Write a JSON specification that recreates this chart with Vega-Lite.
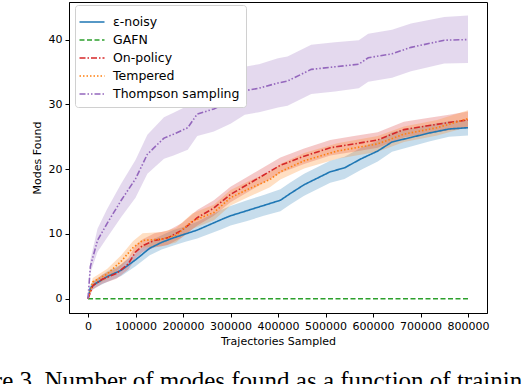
{
  "$schema": "https://vega.github.io/schema/vega-lite/v6.json",
  "width": 418,
  "height": 311,
  "autosize": {"type": "none"},
  "padding": {"left": 69, "top": 2, "right": 35, "bottom": 71},
  "background": "white",
  "config": {
    "font": "DejaVu Sans",
    "view": {"stroke": "black", "strokeWidth": 1},
    "axis": {
      "grid": false,
      "domainColor": "black",
      "tickColor": "black",
      "tickSize": 4,
      "labelFontSize": 11,
      "labelColor": "black",
      "titleFontSize": 11,
      "titleFontWeight": "normal",
      "titleColor": "black",
      "labelFont": "DejaVu Sans",
      "titleFont": "DejaVu Sans"
    },
    "legend": {
      "orient": "none",
      "legendX": 6,
      "legendY": 3,
      "fillColor": "white",
      "strokeColor": "#d0d0d0",
      "cornerRadius": 3,
      "padding": 6,
      "symbolType": "M-1.25,0H1.25",
      "symbolSize": 400,
      "symbolStrokeWidth": 1.6,
      "labelFontSize": 12.5,
      "labelColor": "black",
      "labelFont": "DejaVu Sans",
      "rowPadding": 0,
      "labelOffset": 10
    }
  },
  "title": {
    "text": "Figure 3. Number of modes found as a function of training",
    "orient": "bottom",
    "anchor": "start",
    "frame": "group",
    "dx": -121,
    "offset": 23,
    "font": "Liberation Serif",
    "fontSize": 25,
    "fontWeight": "normal",
    "color": "black"
  },
  "data": {
    "values": [
      {"s": "ε-noisy", "x": 0, "y": 0, "lo": 0, "hi": 0},
      {"s": "ε-noisy", "x": 5000, "y": 1.7, "lo": 1.2, "hi": 2.2},
      {"s": "ε-noisy", "x": 15000, "y": 2.3, "lo": 1.7, "hi": 2.9},
      {"s": "ε-noisy", "x": 40000, "y": 3.4, "lo": 2.6, "hi": 4.2},
      {"s": "ε-noisy", "x": 70000, "y": 4.4, "lo": 3.5, "hi": 5.3},
      {"s": "ε-noisy", "x": 100000, "y": 6.0, "lo": 5.0, "hi": 7.0},
      {"s": "ε-noisy", "x": 130000, "y": 7.8, "lo": 6.7, "hi": 8.9},
      {"s": "ε-noisy", "x": 155000, "y": 8.7, "lo": 7.6, "hi": 9.8},
      {"s": "ε-noisy", "x": 180000, "y": 9.4, "lo": 8.2, "hi": 10.6},
      {"s": "ε-noisy", "x": 205000, "y": 10.0, "lo": 8.8, "hi": 11.2},
      {"s": "ε-noisy", "x": 230000, "y": 10.6, "lo": 9.3, "hi": 11.9},
      {"s": "ε-noisy", "x": 255000, "y": 11.4, "lo": 10.0, "hi": 12.8},
      {"s": "ε-noisy", "x": 280000, "y": 12.2, "lo": 10.7, "hi": 13.7},
      {"s": "ε-noisy", "x": 300000, "y": 12.8, "lo": 11.3, "hi": 14.3},
      {"s": "ε-noisy", "x": 335000, "y": 13.6, "lo": 12.0, "hi": 15.2},
      {"s": "ε-noisy", "x": 370000, "y": 14.4, "lo": 12.8, "hi": 16.0},
      {"s": "ε-noisy", "x": 405000, "y": 15.2, "lo": 13.5, "hi": 16.9},
      {"s": "ε-noisy", "x": 425000, "y": 16.2, "lo": 14.5, "hi": 17.9},
      {"s": "ε-noisy", "x": 455000, "y": 17.6, "lo": 15.9, "hi": 19.3},
      {"s": "ε-noisy", "x": 510000, "y": 19.6, "lo": 17.9, "hi": 21.3},
      {"s": "ε-noisy", "x": 540000, "y": 20.2, "lo": 18.5, "hi": 21.9},
      {"s": "ε-noisy", "x": 575000, "y": 21.6, "lo": 19.9, "hi": 23.3},
      {"s": "ε-noisy", "x": 610000, "y": 22.8, "lo": 21.2, "hi": 24.4},
      {"s": "ε-noisy", "x": 640000, "y": 24.2, "lo": 22.7, "hi": 25.7},
      {"s": "ε-noisy", "x": 680000, "y": 24.9, "lo": 23.5, "hi": 26.3},
      {"s": "ε-noisy", "x": 720000, "y": 25.6, "lo": 24.3, "hi": 26.9},
      {"s": "ε-noisy", "x": 760000, "y": 26.2, "lo": 25.0, "hi": 27.4},
      {"s": "ε-noisy", "x": 800000, "y": 26.4, "lo": 25.2, "hi": 27.6},

      {"s": "GAFN", "x": 0, "y": 0, "lo": 0, "hi": 0},
      {"s": "GAFN", "x": 800000, "y": 0, "lo": 0, "hi": 0},

      {"s": "On-policy", "x": 0, "y": 0, "lo": 0, "hi": 0},
      {"s": "On-policy", "x": 10000, "y": 2.0, "lo": 1.4, "hi": 2.6},
      {"s": "On-policy", "x": 30000, "y": 3.0, "lo": 2.3, "hi": 3.7},
      {"s": "On-policy", "x": 60000, "y": 3.9, "lo": 3.1, "hi": 4.7},
      {"s": "On-policy", "x": 85000, "y": 5.4, "lo": 4.5, "hi": 6.3},
      {"s": "On-policy", "x": 100000, "y": 7.2, "lo": 6.2, "hi": 8.2},
      {"s": "On-policy", "x": 115000, "y": 8.2, "lo": 7.2, "hi": 9.2},
      {"s": "On-policy", "x": 140000, "y": 9.0, "lo": 7.9, "hi": 10.1},
      {"s": "On-policy", "x": 168000, "y": 9.4, "lo": 8.3, "hi": 10.5},
      {"s": "On-policy", "x": 198000, "y": 10.6, "lo": 9.5, "hi": 11.7},
      {"s": "On-policy", "x": 230000, "y": 12.5, "lo": 11.3, "hi": 13.7},
      {"s": "On-policy", "x": 265000, "y": 14.0, "lo": 12.8, "hi": 15.2},
      {"s": "On-policy", "x": 300000, "y": 16.1, "lo": 14.9, "hi": 17.3},
      {"s": "On-policy", "x": 335000, "y": 17.6, "lo": 16.4, "hi": 18.8},
      {"s": "On-policy", "x": 370000, "y": 19.1, "lo": 17.9, "hi": 20.3},
      {"s": "On-policy", "x": 405000, "y": 20.6, "lo": 19.4, "hi": 21.8},
      {"s": "On-policy", "x": 455000, "y": 22.0, "lo": 20.8, "hi": 23.2},
      {"s": "On-policy", "x": 510000, "y": 23.3, "lo": 22.1, "hi": 24.5},
      {"s": "On-policy", "x": 560000, "y": 23.9, "lo": 22.7, "hi": 25.1},
      {"s": "On-policy", "x": 610000, "y": 24.5, "lo": 23.3, "hi": 25.7},
      {"s": "On-policy", "x": 640000, "y": 25.4, "lo": 24.2, "hi": 26.6},
      {"s": "On-policy", "x": 665000, "y": 26.1, "lo": 24.9, "hi": 27.3},
      {"s": "On-policy", "x": 715000, "y": 26.7, "lo": 25.5, "hi": 27.9},
      {"s": "On-policy", "x": 760000, "y": 27.2, "lo": 26.0, "hi": 28.4},
      {"s": "On-policy", "x": 800000, "y": 27.6, "lo": 26.3, "hi": 28.9},

      {"s": "Tempered", "x": 0, "y": 0, "lo": 0, "hi": 0},
      {"s": "Tempered", "x": 10000, "y": 2.6, "lo": 2.0, "hi": 3.2},
      {"s": "Tempered", "x": 40000, "y": 3.8, "lo": 3.0, "hi": 4.6},
      {"s": "Tempered", "x": 70000, "y": 5.8, "lo": 4.9, "hi": 6.7},
      {"s": "Tempered", "x": 95000, "y": 7.9, "lo": 6.9, "hi": 8.9},
      {"s": "Tempered", "x": 115000, "y": 9.0, "lo": 7.9, "hi": 10.1},
      {"s": "Tempered", "x": 155000, "y": 9.2, "lo": 8.1, "hi": 10.3},
      {"s": "Tempered", "x": 185000, "y": 9.8, "lo": 8.7, "hi": 10.9},
      {"s": "Tempered", "x": 220000, "y": 12.0, "lo": 10.8, "hi": 13.2},
      {"s": "Tempered", "x": 265000, "y": 13.3, "lo": 12.1, "hi": 14.5},
      {"s": "Tempered", "x": 300000, "y": 15.6, "lo": 14.4, "hi": 16.8},
      {"s": "Tempered", "x": 340000, "y": 17.0, "lo": 15.8, "hi": 18.2},
      {"s": "Tempered", "x": 383000, "y": 18.4, "lo": 17.2, "hi": 19.6},
      {"s": "Tempered", "x": 405000, "y": 19.6, "lo": 18.4, "hi": 20.8},
      {"s": "Tempered", "x": 455000, "y": 21.3, "lo": 20.1, "hi": 22.5},
      {"s": "Tempered", "x": 525000, "y": 22.8, "lo": 21.6, "hi": 24.0},
      {"s": "Tempered", "x": 610000, "y": 23.9, "lo": 22.7, "hi": 25.1},
      {"s": "Tempered", "x": 665000, "y": 25.4, "lo": 24.2, "hi": 26.6},
      {"s": "Tempered", "x": 735000, "y": 26.4, "lo": 25.2, "hi": 27.6},
      {"s": "Tempered", "x": 800000, "y": 27.8, "lo": 26.5, "hi": 29.1},

      {"s": "Thompson sampling", "x": 0, "y": 0, "lo": 0, "hi": 0},
      {"s": "Thompson sampling", "x": 5000, "y": 5.0, "lo": 4.0, "hi": 6.0},
      {"s": "Thompson sampling", "x": 20000, "y": 9.0, "lo": 7.2, "hi": 10.8},
      {"s": "Thompson sampling", "x": 40000, "y": 11.6, "lo": 9.4, "hi": 13.8},
      {"s": "Thompson sampling", "x": 70000, "y": 15.2, "lo": 12.6, "hi": 17.8},
      {"s": "Thompson sampling", "x": 100000, "y": 18.5, "lo": 15.6, "hi": 21.4},
      {"s": "Thompson sampling", "x": 125000, "y": 22.3, "lo": 19.3, "hi": 25.3},
      {"s": "Thompson sampling", "x": 160000, "y": 24.8, "lo": 21.6, "hi": 28.0},
      {"s": "Thompson sampling", "x": 180000, "y": 25.4, "lo": 22.1, "hi": 28.7},
      {"s": "Thompson sampling", "x": 210000, "y": 26.4, "lo": 23.0, "hi": 29.8},
      {"s": "Thompson sampling", "x": 230000, "y": 28.5, "lo": 25.1, "hi": 31.9},
      {"s": "Thompson sampling", "x": 265000, "y": 29.3, "lo": 25.8, "hi": 32.8},
      {"s": "Thompson sampling", "x": 300000, "y": 30.6, "lo": 27.0, "hi": 34.2},
      {"s": "Thompson sampling", "x": 330000, "y": 32.1, "lo": 28.4, "hi": 35.8},
      {"s": "Thompson sampling", "x": 360000, "y": 32.5, "lo": 28.8, "hi": 36.2},
      {"s": "Thompson sampling", "x": 400000, "y": 33.3, "lo": 29.5, "hi": 37.1},
      {"s": "Thompson sampling", "x": 420000, "y": 33.6, "lo": 29.8, "hi": 37.4},
      {"s": "Thompson sampling", "x": 470000, "y": 35.4, "lo": 31.6, "hi": 39.2},
      {"s": "Thompson sampling", "x": 520000, "y": 35.8, "lo": 32.0, "hi": 39.6},
      {"s": "Thompson sampling", "x": 570000, "y": 36.2, "lo": 32.5, "hi": 39.9},
      {"s": "Thompson sampling", "x": 590000, "y": 37.2, "lo": 33.5, "hi": 40.9},
      {"s": "Thompson sampling", "x": 640000, "y": 37.8, "lo": 34.1, "hi": 41.5},
      {"s": "Thompson sampling", "x": 680000, "y": 38.8, "lo": 35.1, "hi": 42.5},
      {"s": "Thompson sampling", "x": 750000, "y": 39.9, "lo": 36.3, "hi": 43.5},
      {"s": "Thompson sampling", "x": 800000, "y": 40.0, "lo": 36.4, "hi": 43.7}
    ]
  },
  "encoding": {
    "x": {
      "field": "x",
      "type": "quantitative",
      "title": "Trajectories Sampled",
      "scale": {"domain": [-40000, 840000], "nice": false, "zero": false},
      "axis": {"values": [0, 100000, 200000, 300000, 400000, 500000, 600000, 700000, 800000], "format": "d", "labelPadding": 3, "titlePadding": 4, "labelFlush": false}
    }
  },
  "layer": [
    {
      "mark": {"type": "area", "opacity": 0.25},
      "encoding": {
        "y": {"field": "lo", "type": "quantitative"},
        "y2": {"field": "hi"},
        "fill": {
          "field": "s",
          "type": "nominal",
          "legend": null,
          "scale": {
            "range": ["#2ca02c", "#d62728", "#ff7f0e", "#9467bd", "#1f77b4"]
          }
        }
      }
    },
    {
      "mark": {"type": "line", "strokeWidth": 1.6},
      "encoding": {
        "y": {
          "field": "y",
          "type": "quantitative",
          "title": "Modes Found",
          "scale": {"domain": [-2.2, 45.8], "nice": false, "zero": false},
          "axis": {"values": [0, 10, 20, 30, 40], "labelPadding": 3, "titlePadding": 6}
        },
        "color": {
          "field": "s",
          "type": "nominal",
          "title": null,
          "scale": {
            "domain": ["ε-noisy", "GAFN", "On-policy", "Tempered", "Thompson sampling"],
            "range": ["#1f77b4", "#2ca02c", "#d62728", "#ff7f0e", "#9467bd"]
          }
        },
        "strokeDash": {
          "field": "s",
          "type": "nominal",
          "title": null,
          "scale": {
            "domain": ["ε-noisy", "GAFN", "On-policy", "Tempered", "Thompson sampling"],
            "range": [[1, 0], [5, 2.5], [6, 2, 1.5, 2], [1.5, 2], [6, 2, 1.5, 2, 1.5, 2]]
          }
        }
      }
    }
  ]
}
